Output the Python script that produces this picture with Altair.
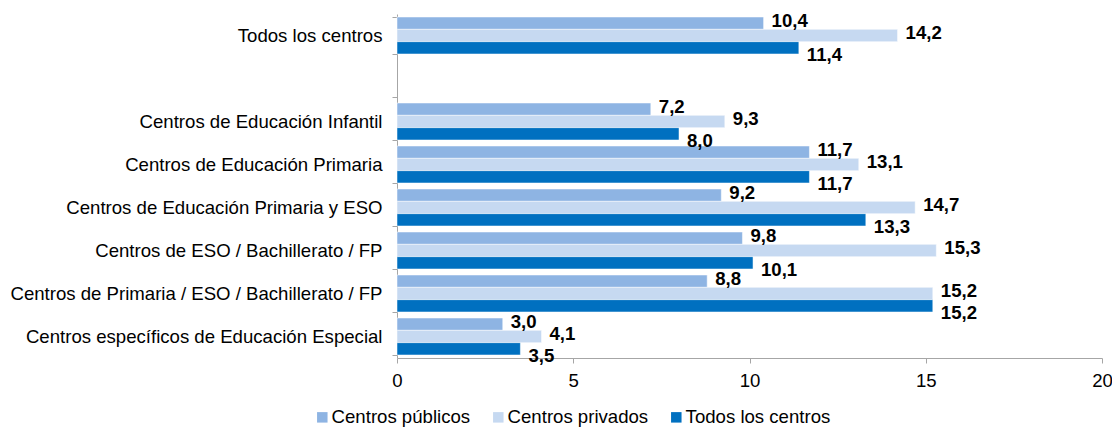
import altair as alt
import pandas as pd

categories = [
    "Todos los centros",
    "Centros de Educación Infantil ",
    "Centros de Educación Primaria",
    "Centros de Educación Primaria y ESO",
    "Centros de ESO / Bachillerato / FP",
    "Centros de Primaria / ESO / Bachillerato / FP",
    "Centros específicos de Educación Especial",
]
series = ["Centros públicos", "Centros privados", "Todos los centros"]
publicos = [10.4, 7.2, 11.7, 9.2, 9.8, 8.8, 3.0]
privados = [14.2, 9.3, 13.1, 14.7, 15.3, 15.2, 4.1]
todos = [11.4, 8.0, 11.7, 13.3, 10.1, 15.2, 3.5]
colors = ["#8EB4E3", "#C6D9F1", "#0070C0"]

rows = []
for i, c in enumerate(categories):
    for s, vals in zip(series, [publicos, privados, todos]):
        rows.append({"cat": c, "serie": s, "v": vals[i]})
df = pd.DataFrame(rows)

y_domain = [categories[0], ""] + categories[1:]

font = "Liberation Sans"
fs = 18.6

y_scale = alt.Scale(domain=y_domain, paddingInner=0.14, paddingOuter=0.07)
y_enc = alt.Y("cat:N", scale=y_scale,
              axis=alt.Axis(title=None, labelFontSize=fs, labelFont=font, labelColor="#000000",
                            labelPadding=10, tickBand="extent", tickSize=5, tickColor="#A6A6A6",
                            domainColor="#A6A6A6", labelLimit=420))
yoff = alt.YOffset("serie:N", scale=alt.Scale(domain=series))
x_enc = alt.X("v:Q", scale=alt.Scale(domain=[0, 20]),
              axis=alt.Axis(title=None, values=[0, 5, 10, 15, 20], grid=False, labelFontSize=fs,
                            labelFont=font, labelColor="#000000", tickSize=5, tickColor="#A6A6A6",
                            domainColor="#A6A6A6", labelPadding=8, labelFlush=False))

bars = alt.Chart(df).mark_bar(stroke="white", strokeWidth=0.5).encode(
    y=y_enc, yOffset=yoff, x=x_enc,
    color=alt.Color("serie:N", scale=alt.Scale(domain=series, range=colors),
                    legend=alt.Legend(title=None, orient="none", direction="horizontal",
                                      legendX=-84, legendY=394, labelFontSize=fs, labelFont=font,
                                      labelColor="#000000", symbolType="square", symbolSize=110,
                                      symbolStrokeWidth=0, columnPadding=18, labelOffset=0,
                                      labelLimit=300)),
)

def text_layer(serie, dy):
    return alt.Chart(df).transform_filter(
        alt.datum.serie == serie
    ).transform_calculate(
        lab="replace(format(datum.v, '.1f'), '.', ',')"
    ).mark_text(align="left", baseline="middle", dx=8, dy=dy, fontSize=fs, fontWeight="bold",
                font=font, color="#000000").encode(
        y=alt.Y("cat:N", scale=y_scale),
        yOffset=yoff, x=alt.X("v:Q"), text="lab:N",
    )

chart = alt.layer(
    bars,
    text_layer(series[0], -2),
    text_layer(series[1], -3),
    text_layer(series[2], 7),
).properties(
    width=705, height=344,
    autosize=alt.AutoSizeParams(type="none"),
    padding={"left": 389, "top": 6, "right": 10, "bottom": 70},
).configure_view(stroke=None)

chart.save("out.html", embed_options={"renderer": "svg", "actions": False})
